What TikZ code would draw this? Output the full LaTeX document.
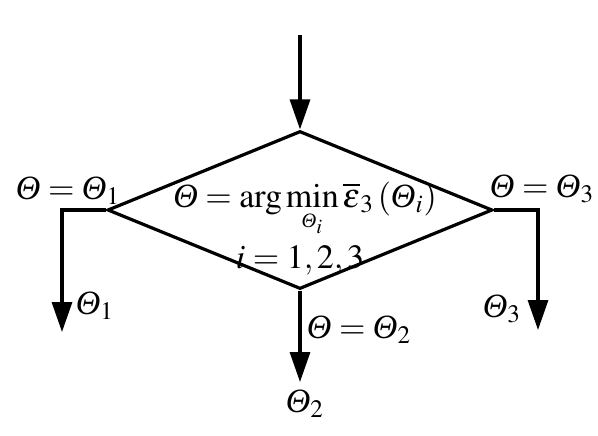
\documentclass[tikz,border=0pt]{standalone}
\usepackage{amsmath}
\usepackage{mathptmx}
\usepackage{fontspec}
\setmainfont{Liberation Serif}
\newfontfamily\grkfont{Liberation Serif}
\newcommand{\Th}{\text{\grkfont\itshape Θ}}
\usetikzlibrary{shapes.geometric,arrows.meta}

\tikzset{
  flow/.style={line width=1.6pt, -{Triangle[length=15pt, width=10pt]}},
  lab/.style={inner sep=0pt, anchor=base, font=\fontsize{17}{20}\selectfont}
}

\begin{document}
\begin{tikzpicture}[x=0.5pt, y=-0.5pt]
  \useasboundingbox (0,0) rectangle (598,435);
  % decision
  \node (dec) [diamond, draw, line width=1.6pt, minimum width=192.5pt, minimum height=79pt, inner sep=0pt] at (300,210) {};
  \node (cond) [lab] at (305,207) {$\Th=\arg\min\limits_{\scriptscriptstyle\Th_i}\overline{\varepsilon}_3\left(\Th_i\right)$};
  \node (idx) [lab] at (300,268) {$i=1,2,3$};
  % ends
  \coordinate (in) at (300,35);
  \coordinate (lc) at (62,210);
  \coordinate (rc) at (538,210);
  \node (o1) [lab] at (95,314) {$\Th_1$};
  \node (o2) [lab] at (305,412) {$\Th_2$};
  \node (o3) [lab] at (502,317) {$\Th_3$};
  \coordinate (e1) at (62,332);
  \coordinate (e2) at (300,382);
  \coordinate (e3) at (538,330);
  % branch labels
  \node (b1) [lab] at (68,199) {$\Th=\Th_1$};
  \node (b2) [lab] at (359,338) {$\Th=\Th_2$};
  \node (b3) [lab] at (542,197) {$\Th=\Th_3$};
  % connectors
  \draw[flow] (in) -- (dec.north);
  \draw[flow] (dec.west) -- (lc) -- (e1);
  \draw[flow] (dec.east) -- (rc) -- (e3);
  \draw[flow] (dec.south) -- (e2);
\end{tikzpicture}
\end{document}
